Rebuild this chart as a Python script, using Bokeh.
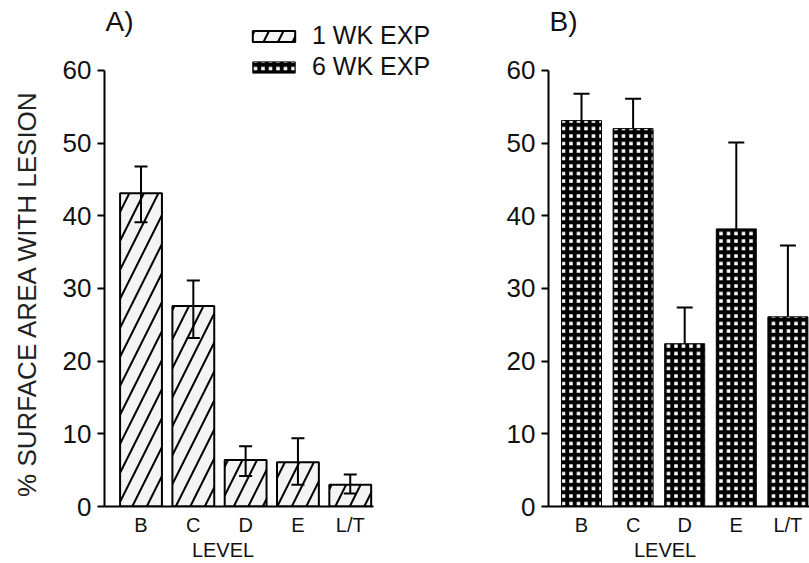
from bokeh.plotting import figure
from bokeh.models import (Range1d, FixedTicker, Whisker, TeeHead, ColumnDataSource,
                          Legend, LegendItem, Label)
from bokeh.layouts import row
from bokeh.embed import file_html
from bokeh.resources import INLINE

# ---- data ----
categories = ["B", "C", "D", "E", "L/T"]
wk1_mean = [43.1, 27.6, 6.4, 6.1, 3.0]
wk1_low = [39.1, 23.2, 4.2, 3.0, 1.8]
wk1_high = [46.8, 31.1, 8.3, 9.4, 4.4]
wk6_mean = [53.1, 52.0, 22.4, 38.2, 26.1]
wk6_high = [56.8, 56.1, 27.4, 50.1, 35.9]
y_ticks = [0, 10, 20, 30, 40, 50, 60]
series_labels = ["1 WK EXP", "6 WK EXP"]
panel_titles = ["A)", "B)"]
x_title = "LEVEL"
y_title = "% SURFACE AREA WITH LESION"

FONT = "Liberation Sans"
NBSP = "\u00a0"
xs = list(range(1, len(categories) + 1))
overrides = {x: c for x, c in zip(xs, categories)}

srcA = ColumnDataSource(dict(x=xs, top=wk1_mean, low=wk1_low, high=wk1_high))
srcB = ColumnDataSource(dict(x=xs, top=wk6_mean, high=wk6_high))

styleA = dict(fill_color="#f4f4f4", line_color="black", line_width=2,
              hatch_pattern="/", hatch_color="black", hatch_scale=29, hatch_weight=2)
styleB = dict(fill_color="white", line_color="black", line_width=1,
              hatch_pattern="+", hatch_color="black", hatch_scale=7.5, hatch_weight=4)

Y_TOP = 69.63  # frame reaches the top of the page so the panel letters/legend fit inside


def style_axes(p, xbounds, xlabel_pad, ylabel=None):
    p.xgrid.visible = False
    p.ygrid.visible = False
    p.outline_line_color = None
    p.background_fill_color = "white"
    p.border_fill_color = "white"
    ya = p.yaxis[0]
    ya.ticker = FixedTicker(ticks=y_ticks)
    ya.bounds = (0, 60)
    ya.axis_line_width = 2
    ya.major_tick_line_width = 2
    ya.major_tick_out = 7
    ya.major_tick_in = 0
    ya.minor_tick_line_color = None
    ya.major_label_text_font = FONT
    ya.major_label_text_font_size = "26px"
    ya.major_label_text_color = "#111111"
    ya.major_label_standoff = 6
    if ylabel:
        # trailing no-break spaces move the visible label to the middle of the 0-60 axis
        ya.axis_label = ylabel + NBSP * 11
        ya.axis_label_text_font = FONT
        ya.axis_label_text_font_size = "26px"
        ya.axis_label_text_font_style = "normal"
        ya.axis_label_text_color = "#222222"
        ya.axis_label_standoff = 18
    xa = p.xaxis[0]
    xa.ticker = FixedTicker(ticks=xs)
    xa.bounds = xbounds
    xa.major_label_overrides = overrides
    xa.axis_line_width = 2
    xa.major_tick_line_color = None
    xa.major_tick_out = 0
    xa.major_tick_in = 0
    xa.minor_tick_line_color = None
    xa.major_label_text_font = FONT
    xa.major_label_text_font_size = "20px"
    xa.major_label_text_color = "#111111"
    xa.major_label_standoff = 7
    xa.axis_label = x_title + NBSP * xlabel_pad
    xa.axis_label_text_font = FONT
    xa.axis_label_text_font_size = "20px"
    xa.axis_label_text_font_style = "normal"
    xa.axis_label_text_color = "#111111"
    xa.axis_label_standoff = 0


# ---- panel A ----
pA = figure(frame_width=376, frame_height=506, min_border_left=104, min_border_right=0,
            min_border_top=0, min_border_bottom=57,
            x_range=Range1d(0.302, 7.49), y_range=Range1d(0, Y_TOP),
            output_backend="svg", toolbar_location=None)
rA = pA.vbar(x="x", top="top", bottom=0, width=0.8, source=srcA, **styleA)
pA.add_layout(Whisker(base="x", lower="low", upper="high", source=srcA,
                      level="annotation", line_width=2, line_color="black",
                      upper_head=TeeHead(size=13, line_width=2, line_color="black"),
                      lower_head=TeeHead(size=13, line_width=2, line_color="black")))
# legend proxy for the 6-week style (zero height, sits on the baseline)
proxyB = pA.vbar(x="x", top=0, bottom=0, width=0.775, source=srcB, **styleB)
style_axes(pA, (0.302, 5.445), 25, y_title)

legend = Legend(items=[LegendItem(label=series_labels[0], renderers=[rA]),
                       LegendItem(label=series_labels[1], renderers=[proxyB])],
                location=(143, 425), orientation="vertical",
                glyph_width=53, glyph_height=14, label_height=28, spacing=2,
                label_standoff=12, padding=0, margin=0,
                border_line_color=None, background_fill_alpha=0,
                label_text_font=FONT, label_text_font_size="25px",
                label_text_color="#111111")
pA.add_layout(legend, "center")
pA.add_layout(Label(x=0.321, y=66.8, text=panel_titles[0], text_font=FONT,
                    text_font_size="28px", text_baseline="alphabetic",
                    text_color="#111111"))

# ---- panel B ----
pB = figure(frame_width=261, frame_height=506, min_border_left=68, min_border_right=0,
            min_border_top=0, min_border_bottom=57,
            x_range=Range1d(0.36, 5.419), y_range=Range1d(0, Y_TOP),
            output_backend="svg", toolbar_location=None)
pB.vbar(x="x", top="top", bottom=0, width=0.775, source=srcB, **styleB)
pB.add_layout(Whisker(base="x", lower="top", upper="high", source=srcB,
                      level="annotation", line_width=2, line_color="black",
                      upper_head=TeeHead(size=16, line_width=2, line_color="black"),
                      lower_head=None))
style_axes(pB, (0.36, 5.419), 5)
pB.add_layout(Label(x=0.38, y=66.8, text=panel_titles[1], text_font=FONT,
                    text_font_size="28px", text_baseline="alphabetic",
                    text_color="#111111"))

layout = row(pA, pB, spacing=0)
open("out.html", "w").write(file_html(layout, INLINE))
